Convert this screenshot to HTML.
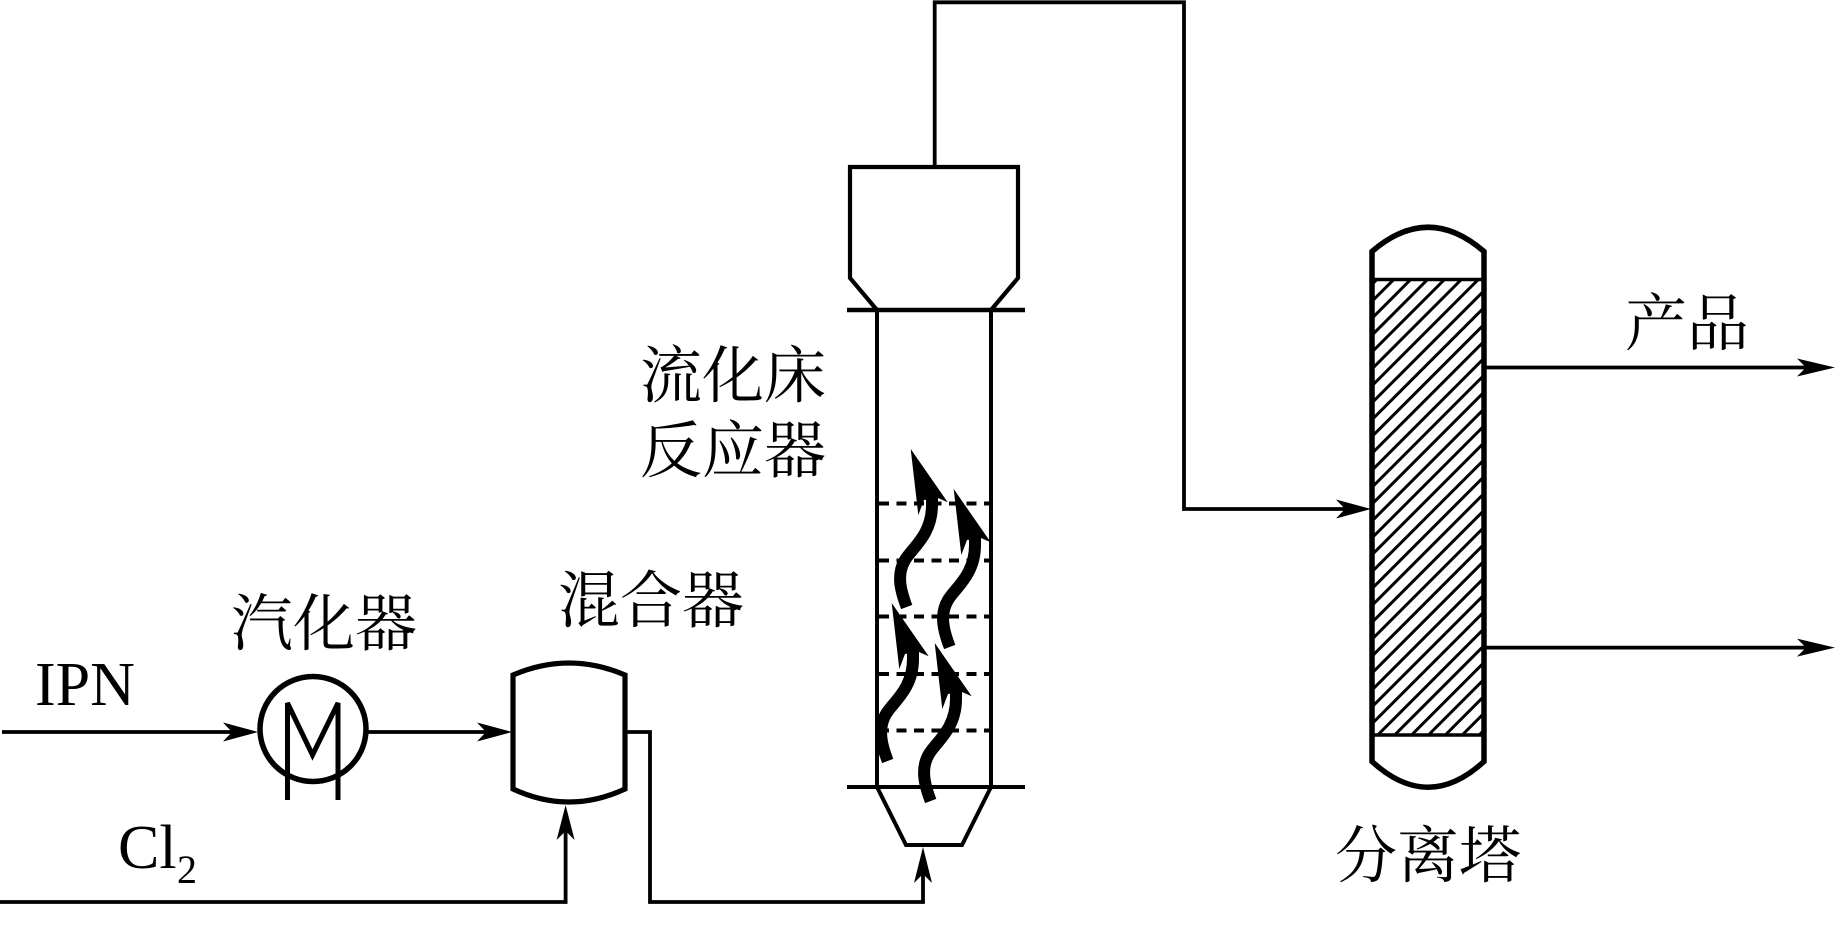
<!DOCTYPE html>
<html>
<head>
<meta charset="utf-8">
<style>
html,body{margin:0;padding:0;background:#fff}
svg{display:block}
.c{font-family:"Liberation Serif","Noto Serif CJK SC",serif;font-size:62px;fill:#000}
.l{font-family:"Liberation Serif",serif;font-size:62px;fill:#000}
</style>
</head>
<body>
<svg width="1836" height="934" viewBox="0 0 1836 934" xmlns="http://www.w3.org/2000/svg">
<defs>
<clipPath id="hc"><rect x="1372" y="279" width="112" height="456"/></clipPath>
<g id="flame">
<path d="M906.7 607C901 592 896 575 905 560C912 548 932 535 932 505V490" fill="none" stroke="#000" stroke-width="12"/>
<path d="M910.7 449L947.7 502.3L938 498L924 500L918.3 515Z" fill="#000"/>
</g>
</defs>
<rect width="1836" height="934" fill="#fff"/>

<!-- pipes -->
<g fill="none" stroke="#000" stroke-width="3.8">
<path d="M2 732H250"/>
<path d="M367 732H500"/>
<path d="M0 902H565.6V820"/>
<path d="M625 732H650V902H923V865"/>
<path d="M934.7 166V2.3H1184V509H1355"/>
<path d="M1484 367.5H1815"/>
<path d="M1484 647.6H1815"/>
</g>

<!-- arrowheads -->
<g fill="#000">
<path d="M258 732L223 722.5L232 732L223 741.5Z"/>
<path d="M512 732L477 722.5L486 732L477 741.5Z"/>
<path d="M565.6 805L556.6 840L565.6 831L574.6 840Z"/>
<path d="M923 847L914 883L923 874L932 883Z"/>
<path d="M1371 509L1336 499.5L1345 509L1336 518.5Z"/>
<path d="M1835 367.5L1797 358.5L1806 367.5L1797 376.5Z"/>
<path d="M1835 647.6L1797 638.6L1806 647.6L1797 656.6Z"/>
</g>

<!-- vaporizer -->
<ellipse cx="313" cy="729" rx="53" ry="52.5" fill="none" stroke="#000" stroke-width="5.5"/>
<path d="M287.5 800V703L312.5 755L338 703V800" fill="none" stroke="#000" stroke-width="5"/>

<!-- mixer -->
<path d="M513 675Q569 651 625 675V789Q569 815 513 789Z" fill="none" stroke="#000" stroke-width="5.2"/>

<!-- reactor -->
<g fill="none" stroke="#000">
<path d="M877 310L850 278V167H1018V278L991 310" stroke-width="4.2"/>
<path d="M847 310H1025" stroke-width="4.6"/>
<path d="M877 310V787M991 310V787" stroke-width="4"/>
<path d="M847 787H1025" stroke-width="4"/>
<path d="M877 787L906 845H962L991 787" stroke-width="4"/>
<g stroke-width="4" stroke-dasharray="10 7.5">
<path d="M879 503.5H989"/>
<path d="M879 560.5H989"/>
<path d="M879 616.5H989"/>
<path d="M879 674H989"/>
<path d="M879 730.5H989"/>
</g>
</g>
<use href="#flame"/>
<use href="#flame" transform="translate(43 40)"/>
<use href="#flame" transform="translate(-19 154)"/>
<use href="#flame" transform="translate(24 194)"/>

<!-- column -->
<path d="M1372 279.5H1484M1372 735H1484" stroke="#000" stroke-width="3.4" fill="none"/>
<path clip-path="url(#hc)" fill="none" stroke="#000" stroke-width="3" d="M1377.4 279l-455 455M1394.3 279l-455 455M1411.2 279l-455 455M1428.1 279l-455 455M1445 279l-455 455M1461.9 279l-455 455M1478.8 279l-455 455M1495.7 279l-455 455M1512.6 279l-455 455M1529.5 279l-455 455M1546.4 279l-455 455M1563.3 279l-455 455M1580.2 279l-455 455M1597.1 279l-455 455M1614 279l-455 455M1630.9 279l-455 455M1647.8 279l-455 455M1664.7 279l-455 455M1681.6 279l-455 455M1698.5 279l-455 455M1715.4 279l-455 455M1732.3 279l-455 455M1749.2 279l-455 455M1766.1 279l-455 455M1783 279l-455 455M1799.9 279l-455 455M1816.8 279l-455 455M1833.7 279l-455 455M1850.6 279l-455 455M1867.5 279l-455 455M1884.4 279l-455 455M1901.3 279l-455 455M1918.2 279l-455 455M1935.1 279l-455 455"/>
<path d="M1372 251.5Q1428 203 1484 251.5V761.5Q1428 813 1372 761.5Z" fill="none" stroke="#000" stroke-width="5.5"/>

<!-- labels -->
<text class="l" x="35" y="705">IPN</text>
<text class="l" x="118" y="868">Cl</text>
<text class="l" x="177" y="883" style="font-size:40px">2</text>
<text class="c" x="231" y="645">汽化器</text>
<text class="c" x="558" y="622">混合器</text>
<text class="c" x="640" y="397">流化床</text>
<text class="c" x="640" y="472">反应器</text>
<text class="c" x="1625" y="345">产品</text>
<text class="c" x="1335" y="877">分离塔</text>
</svg>
</body>
</html>
